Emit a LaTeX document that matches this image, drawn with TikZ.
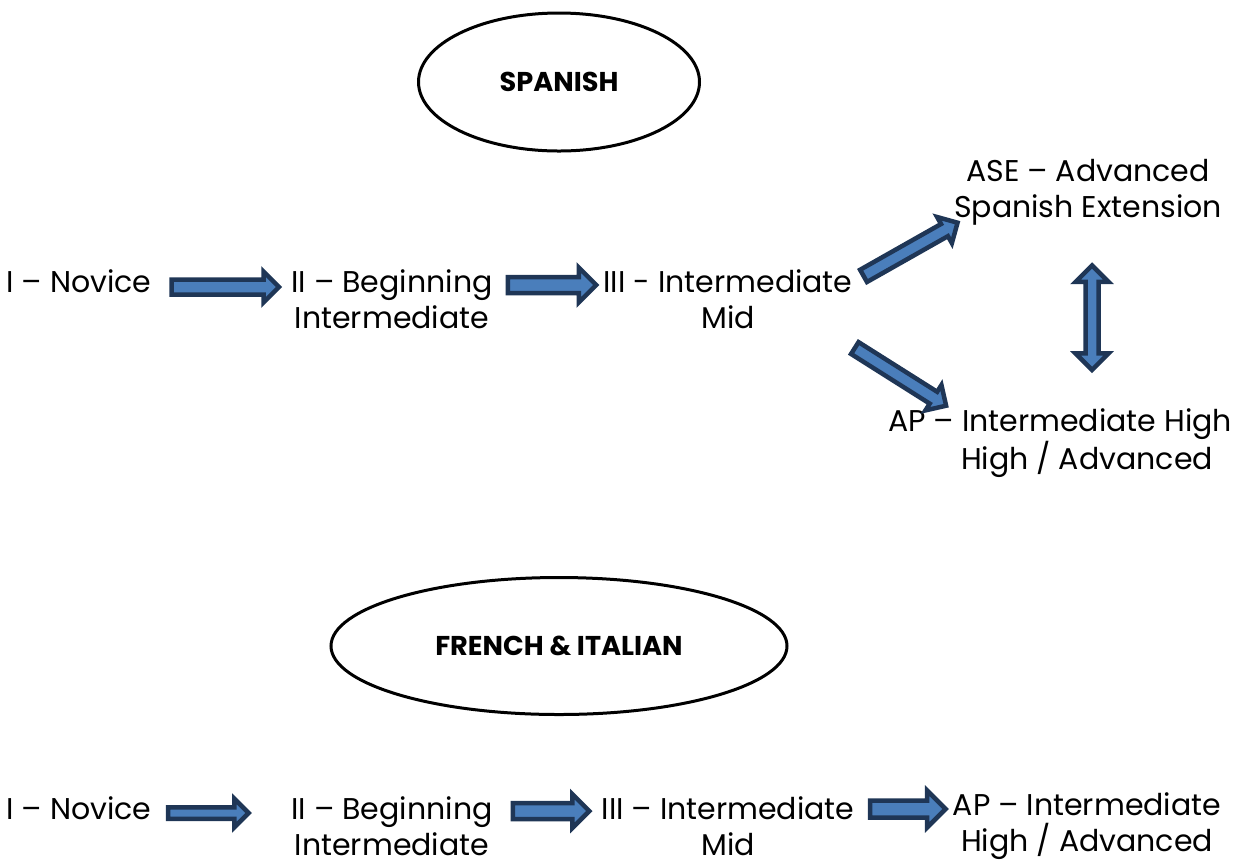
\documentclass[tikz,border=0pt]{standalone}
\usepackage{fontspec}
\setmainfont{Poppins}
\usetikzlibrary{shapes.geometric,shapes.arrows,calc}
\definecolor{arrowline}{HTML}{1F3656}
\definecolor{arrowfill}{HTML}{4A7EBB}

\begin{document}
\begin{tikzpicture}[x=0.5pt,y=-0.5pt,
    level/.style={align=center, font=\fontsize{15}{18}\selectfont, inner sep=2pt},
    lang/.style={ellipse, draw, line width=1.5pt, inner sep=0pt,
      font=\bfseries\fontsize{13.6}{16}\selectfont},
    fatarrow/.style={single arrow, draw=arrowline, fill=arrowfill,
      line width=2.25pt, inner xsep=0pt, outer sep=0pt},
    dblarrow/.style={double arrow, draw=arrowline, fill=arrowfill,
      line width=2.25pt, inner xsep=0pt, outer sep=0pt}]
  \useasboundingbox (0,0) rectangle (1248,859);

  % Spanish track
  \node[lang, minimum width=140.5pt, minimum height=69pt] (spa) at (559,82) {SPANISH};
  \node[level] (nov1) at (79,281) {I – Novice};
  \node[level] (beg1) at (392,299) {II – Beginning\\Intermediate};
  \node[level] (mid1) at (728,299) {III - Intermediate\\Mid};
  \node[level] (ase) at (1088,192) {ASE – Advanced\\Spanish Extension};
  \node[level] (ap1) at (1060,443) {AP – Intermediate High\\\hspace*{27pt}High / Advanced};

  \coordinate (up0) at (858,279);
  \coordinate (up1) at (957,223);
  \coordinate (dn0) at (850,345);
  \coordinate (dn1) at (945,405);

  \path (nov1.east) -- node[fatarrow, yshift=-3pt, minimum height=53.75pt,
    inner ysep=2.625pt, single arrow head extend=4pt] {} (nov1.east -| beg1.west);
  \path (beg1.east) -- node[fatarrow, yshift=7pt, minimum height=44.25pt,
    inner ysep=2.875pt, single arrow head extend=4.75pt] {} (mid1.west);
  \path (up0) -- node[fatarrow, sloped, minimum height=54pt,
    inner ysep=2.375pt, single arrow head extend=4pt] {} (up1);
  \path (dn0) -- node[fatarrow, sloped, minimum height=54pt,
    inner ysep=2.375pt, single arrow head extend=4pt] {} (dn1);
  \path (ase.south) -- node[dblarrow, rotate=90, xshift=-0.5pt, yshift=-2pt,
    minimum height=52.25pt, inner ysep=2.125pt, double arrow head extend=5pt] {}
    (ase.south |- ap1.north);

  % French & Italian track
  \node[lang, minimum width=228pt, minimum height=68.5pt] (fri) at (559,646) {FRENCH \& ITALIAN};
  \node[level] (nov2) at (79,808) {I – Novice};
  \node[level] (beg2) at (392,826) {II – Beginning\\Intermediate};
  \node[level] (mid2) at (728,826) {III – Intermediate\\Mid};
  \node[level] (ap2) at (1087,826) {AP – Intermediate\\High / Advanced};

  \path (nov2.east) -- node[fatarrow, xshift=-8pt, yshift=-2.5pt, minimum height=40.25pt,
    inner ysep=1.75pt, single arrow head extend=4.25pt] {} (nov2.east -| beg2.west);
  \path (beg2.east) -- node[fatarrow, yshift=7.5pt, minimum height=38.25pt,
    inner ysep=2.875pt, single arrow head extend=4.5pt] {} (mid2.west);
  \path (mid2.east) -- node[fatarrow, yshift=8.5pt, minimum height=37.75pt,
    inner ysep=3.125pt, single arrow head extend=5pt] {} (ap2.west);
\end{tikzpicture}
\end{document}
